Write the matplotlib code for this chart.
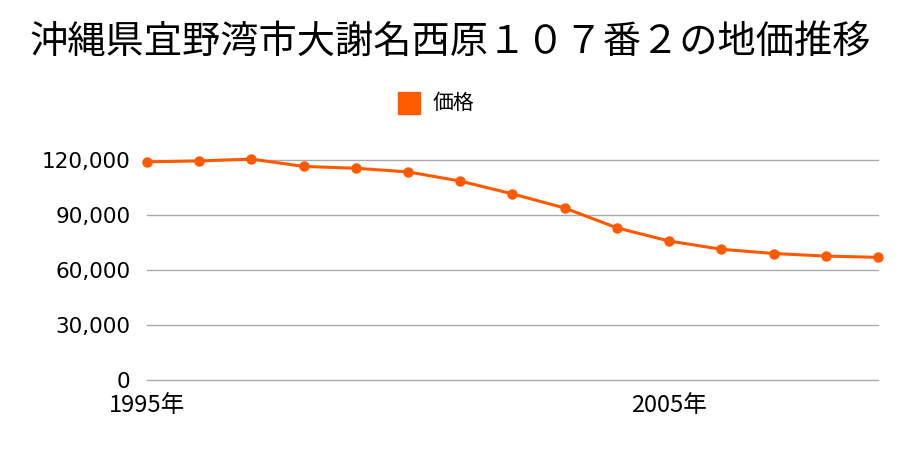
import matplotlib
matplotlib.use('Agg')
import matplotlib.pyplot as plt
from matplotlib.patches import Rectangle

plt.rcParams['font.family'] = ['Noto Sans CJK JP', 'DejaVu Sans']

# data
years = [1995, 1996, 1997, 1998, 1999, 2000, 2001, 2002, 2003, 2004,
         2005, 2006, 2007, 2008, 2009]
prices = [119000, 119500, 120500, 116500, 115500, 113500, 108500, 101500,
          93800, 83000, 75800, 71300, 69000, 67600, 66900]
y_ticks = [0, 30000, 60000, 90000, 120000]
x_ticks = [1995, 2005]
x_labels = ['1995年', '2005年']
title = '沖縄県宜野湾市大謝名西原１０７番２の地価推移'
series_name = '価格'
color = '#ff5a00'

fig = plt.figure(figsize=(9, 4.5), dpi=100)
ax = fig.add_axes([147 / 900, 1 - 380 / 450, (878 - 147) / 900, 220 / 450])

ax.plot(years, prices, color=color, lw=2.2, marker='o', ms=6.5,
        clip_on=False, zorder=3)

ax.set_xlim(years[0], years[-1])
ax.set_ylim(0, 120000)
ax.set_yticks(y_ticks)
ax.set_yticklabels(['{:,}'.format(v) for v in y_ticks],
                   fontfamily='DejaVu Sans', fontsize=15.5)
ax.set_xticks(x_ticks)
ax.set_xticklabels(x_labels, fontsize=17)
ax.yaxis.grid(True, color='#aaaaaa', lw=1)
for gl in ax.get_ygridlines():
    gl.set_clip_on(False)
ax.set_axisbelow(True)
for s in ax.spines.values():
    s.set_visible(False)
ax.tick_params(length=0)
ax.tick_params(axis='y', pad=12)
ax.tick_params(axis='x', pad=10)

fig.text(0.5, 1 - 42 / 450, title, ha='center', va='center', fontsize=27.5)
fig.patches.append(Rectangle((398 / 900, 1 - 114 / 450), 22 / 900, 22 / 450,
                             transform=fig.transFigure, color=color))
fig.text(433 / 900, 1 - 103 / 450, series_name, ha='left', va='center', fontsize=15)

fig.savefig('out.png', dpi=100)
